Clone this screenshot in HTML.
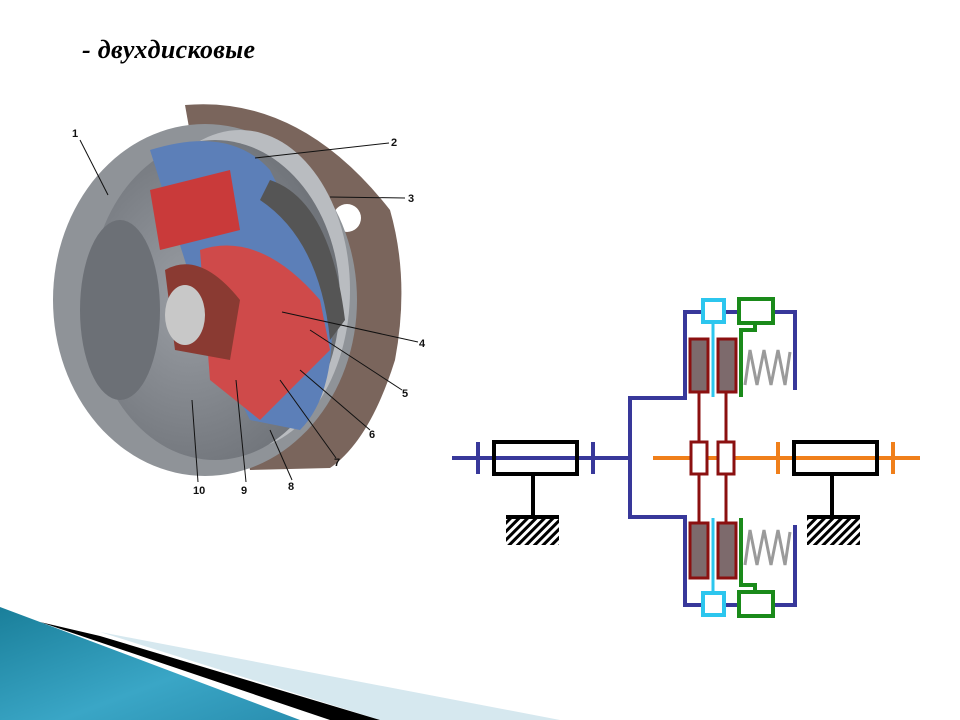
<!DOCTYPE html>
<html><head><meta charset="utf-8"><style>
html,body{margin:0;padding:0;background:#fff;}
body{width:960px;height:720px;position:relative;overflow:hidden;font-family:"Liberation Serif",serif;}
.t{position:absolute;left:82px;top:35px;font-size:26px;font-weight:bold;font-style:italic;color:#000;letter-spacing:0.3px;}
svg{position:absolute;left:0;top:0;}
</style></head><body>
<svg width="960" height="720" viewBox="0 0 960 720">
<defs>
<linearGradient id="tg" x1="0" y1="0" x2="1" y2="1"><stop offset="0" stop-color="#1a7f9a"/><stop offset="0.6" stop-color="#3aa6c6"/><stop offset="1" stop-color="#2a8fb0"/></linearGradient>
<radialGradient id="fg" cx="0.4" cy="0.5" r="0.6"><stop offset="0" stop-color="#9a9ea4"/><stop offset="1" stop-color="#6e7278"/></radialGradient>
<pattern id="h" width="6" height="6" patternUnits="userSpaceOnUse" patternTransform="rotate(45)"><rect width="3" height="6" fill="#000"/></pattern>
</defs>
<polygon points="100,632 560,720 380,720" fill="#d6e8ef"/>
<polygon points="40,622 100,636 380,720 330,720" fill="#000"/>
<polygon points="0,607 40,622 300,720 0,720" fill="url(#tg)"/>

<path d="M185,105 Q300,95 390,210 Q410,280 395,360 Q370,440 330,468 L250,470 Z" fill="#7a655c"/>
<circle cx="347" cy="218" r="14" fill="#fff"/>
<ellipse cx="205" cy="300" rx="152" ry="176" fill="#8f9398"/>
<ellipse cx="240" cy="290" rx="110" ry="160" fill="#b9bcc0"/>
<ellipse cx="215" cy="300" rx="125" ry="160" fill="url(#fg)"/>
<path d="M150,150 Q230,125 270,170 L330,290 Q340,390 300,430 L250,420 L210,340 Z" fill="#5c7fb8"/>
<path d="M150,190 L230,170 L240,230 L160,250 Z" fill="#c93a3a"/>
<path d="M200,250 Q260,230 320,300 L330,350 L260,420 L210,380 Z" fill="#cf4a4a"/>
<path d="M165,270 Q200,250 240,300 L230,360 L175,350 Z" fill="#8a3a32"/>
<path d="M270,180 Q330,200 345,320 L330,340 Q320,240 260,200 Z" fill="#555"/>
<ellipse cx="120" cy="310" rx="40" ry="90" fill="#6c7076"/>
<ellipse cx="185" cy="315" rx="20" ry="30" fill="#c8c8c8"/>
<g font-family="Liberation Sans,sans-serif" font-size="11" font-weight="bold" fill="#111">
<text x="72" y="137">1</text><text x="391" y="146">2</text><text x="408" y="202">3</text>
<text x="419" y="347">4</text><text x="402" y="397">5</text><text x="369" y="438">6</text>
<text x="334" y="466">7</text><text x="288" y="490">8</text><text x="241" y="494">9</text><text x="193" y="494">10</text>
</g>
<g stroke="#111" stroke-width="1">
<line x1="80" y1="140" x2="108" y2="195"/><line x1="389" y1="143" x2="255" y2="158"/>
<line x1="405" y1="198" x2="330" y2="197"/><line x1="418" y1="342" x2="282" y2="312"/>
<line x1="402" y1="390" x2="310" y2="330"/><line x1="370" y1="430" x2="300" y2="370"/>
<line x1="336" y1="458" x2="280" y2="380"/><line x1="292" y1="480" x2="270" y2="430"/>
<line x1="246" y1="482" x2="236" y2="380"/><line x1="198" y1="482" x2="192" y2="400"/>
</g>

<g fill="none" stroke-linecap="butt">
<polyline points="795,390 795,312 685,312 685,398 630,398 630,517 685,517 685,605 795,605 795,525" stroke="#38389a" stroke-width="4"/>
<line x1="452" y1="458" x2="630" y2="458" stroke="#38389a" stroke-width="4"/>
<line x1="478" y1="442" x2="478" y2="474" stroke="#38389a" stroke-width="4"/>
<line x1="593" y1="442" x2="593" y2="474" stroke="#38389a" stroke-width="4"/>
<rect x="494" y="442" width="83" height="32" stroke="#000" stroke-width="4"/>
<line x1="533" y1="474" x2="533" y2="517" stroke="#000" stroke-width="4"/>
<line x1="506" y1="517" x2="559" y2="517" stroke="#000" stroke-width="4"/>
<rect x="506" y="519" width="53" height="26" fill="url(#h)" stroke="none"/>
<line x1="653" y1="458" x2="920" y2="458" stroke="#f07f1a" stroke-width="4"/>
<line x1="778" y1="442" x2="778" y2="474" stroke="#f07f1a" stroke-width="4"/>
<line x1="893" y1="442" x2="893" y2="474" stroke="#f07f1a" stroke-width="4"/>
<rect x="794" y="442" width="83" height="32" stroke="#000" stroke-width="4"/>
<line x1="832" y1="474" x2="832" y2="517" stroke="#000" stroke-width="4"/>
<line x1="807" y1="517" x2="860" y2="517" stroke="#000" stroke-width="4"/>
<rect x="807" y="519" width="53" height="26" fill="url(#h)" stroke="none"/>
<line x1="699" y1="392" x2="699" y2="522" stroke="#8b1010" stroke-width="3"/>
<line x1="726" y1="392" x2="726" y2="522" stroke="#8b1010" stroke-width="3"/>
<rect x="691" y="442" width="16" height="32" fill="#fff" stroke="#8b1010" stroke-width="3"/>
<rect x="718" y="442" width="16" height="32" fill="#fff" stroke="#8b1010" stroke-width="3"/>
<rect x="690" y="339" width="18" height="53" fill="#7d6a6c" stroke="#8b1010" stroke-width="3"/>
<rect x="718" y="339" width="18" height="53" fill="#7d6a6c" stroke="#8b1010" stroke-width="3"/>
<rect x="690" y="523" width="18" height="55" fill="#7d6a6c" stroke="#8b1010" stroke-width="3"/>
<rect x="718" y="523" width="18" height="55" fill="#7d6a6c" stroke="#8b1010" stroke-width="3"/>
<line x1="713" y1="322" x2="713" y2="397" stroke="#2cc6ee" stroke-width="3"/>
<line x1="713" y1="518" x2="713" y2="593" stroke="#2cc6ee" stroke-width="3"/>
<rect x="703" y="300" width="21" height="22" fill="#fff" stroke="#2cc6ee" stroke-width="4"/>
<rect x="703" y="593" width="21" height="22" fill="#fff" stroke="#2cc6ee" stroke-width="4"/>
<rect x="739" y="299" width="34" height="24" fill="#fff" stroke="#1a8a1a" stroke-width="4"/>
<polyline points="755,323 755,330 741,330 741,397" stroke="#1a8a1a" stroke-width="4"/>
<rect x="739" y="592" width="34" height="24" fill="#fff" stroke="#1a8a1a" stroke-width="4"/>
<polyline points="755,592 755,585 741,585 741,518" stroke="#1a8a1a" stroke-width="4"/>
<polyline points="745,385 750,350 757,385 764,350 771,385 778,350 785,385 790,352" stroke="#9a9a9a" stroke-width="3"/>
<polyline points="745,565 750,530 757,565 764,530 771,565 778,530 785,565 790,532" stroke="#9a9a9a" stroke-width="3"/>
</g>
</svg>
<div class="t">- двухдисковые</div>
</body></html>
